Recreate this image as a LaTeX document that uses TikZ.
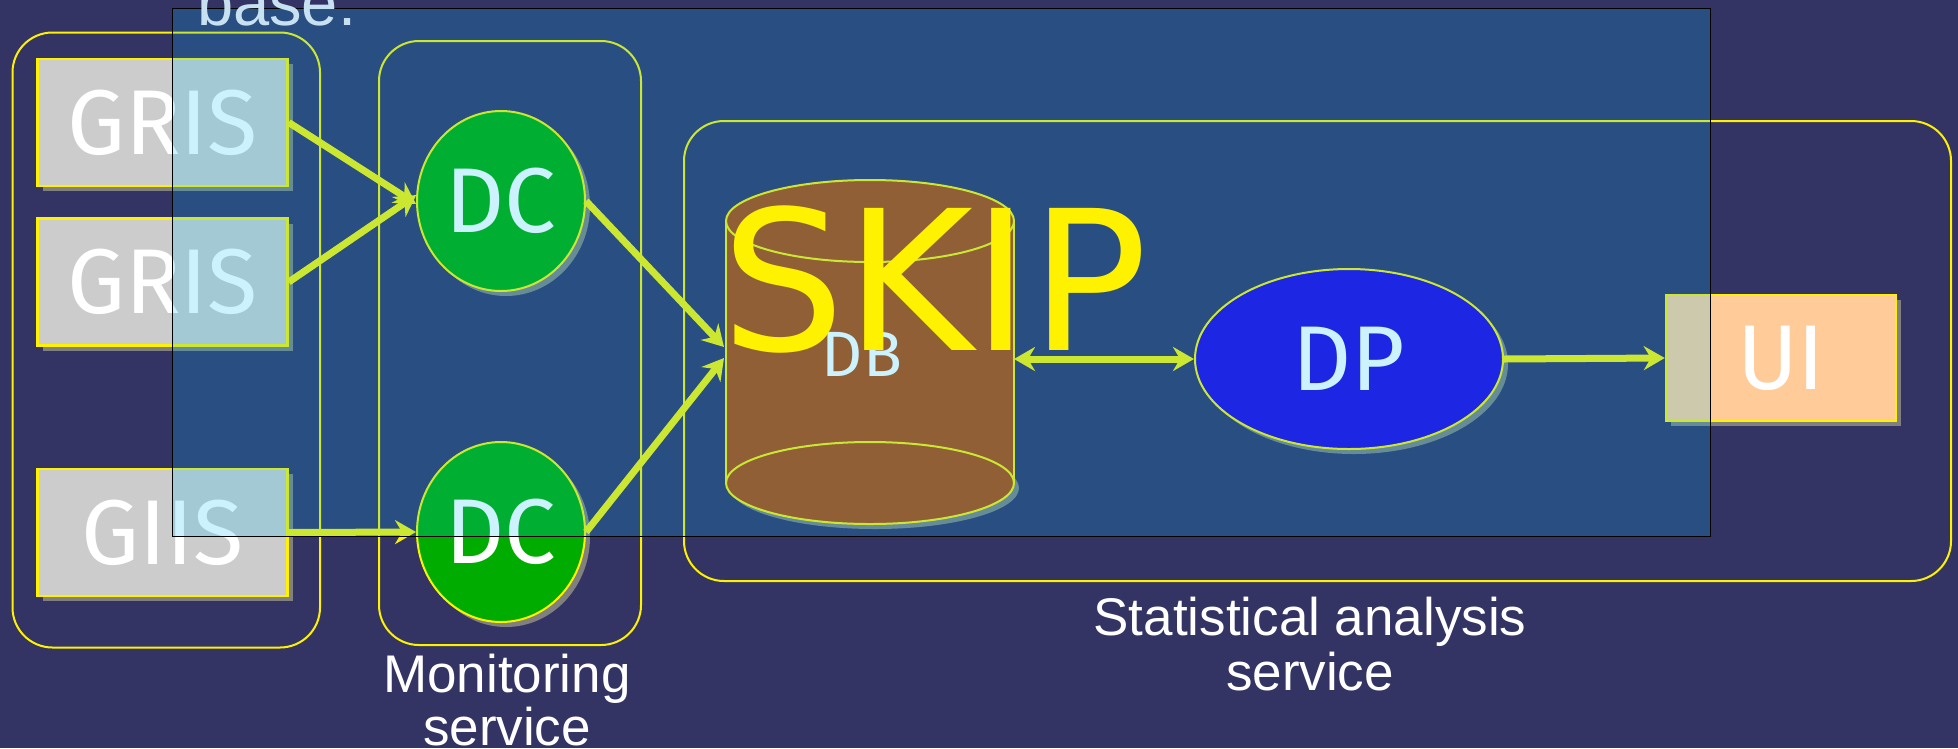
\documentclass[tikz,border=0pt]{standalone}
\usepackage{fontspec}
\setmainfont{Liberation Sans}
\newfontfamily\comicf{Fira Sans}
\newfontfamily\skipf{DejaVu Sans}
\usetikzlibrary{arrows.meta,shapes.geometric,shadows,calc}
\definecolor{bgc}{RGB}{51,51,100}
\definecolor{boxgray}{RGB}{204,204,204}
\definecolor{shadowgray}{RGB}{128,128,128}
\definecolor{dcgreen}{RGB}{0,172,0}
\definecolor{dbbrown}{RGB}{180,72,4}
\definecolor{dpblue}{RGB}{36,0,222}
\definecolor{uiorange}{RGB}{255,204,153}
\definecolor{overlayc}{RGB}{0,190,250}
\definecolor{basec}{RGB}{200,225,240}
\begin{document}
\begin{tikzpicture}[x=1pt,y=-1pt,
  grp/.style={draw=yellow, line width=2pt, rounded corners=40pt},
  boxn/.style={draw=yellow, line width=2.5pt, minimum width=250pt, minimum height=127pt, inner sep=0pt, text=white,
    font={\comicf\fontsize{92}{96}\selectfont},
    drop shadow={shadow xshift=5pt, shadow yshift=-5pt, fill=shadowgray, opacity=1}},
  elln/.style={ellipse, draw=yellow, line width=2pt, inner sep=0pt, text=white,
    font={\comicf\fontsize{92}{96}\selectfont},
    drop shadow={shadow xshift=5pt, shadow yshift=-5pt, fill=shadowgray, opacity=1}},
  arr/.style={draw=yellow, line width=7pt, -{Stealth[length=21pt,width=24pt,inset=7pt]}},
  darr/.style={draw=yellow, line width=7pt, {Stealth[length=21pt,width=24pt,inset=7pt]}-{Stealth[length=21pt,width=24pt,inset=7pt]}},
  lbl/.style={text=white, font={\fontsize{53}{55}\selectfont}, inner sep=0pt, anchor=base}
]
\useasboundingbox (0,0) rectangle (1958,748);
\fill[bgc] (0,0) rectangle (1958,748);

% groups
\draw[grp] (12.5,32.5) rectangle (320,647.5);
\draw[grp] (379,41) rectangle (641,645);
\draw[grp] (684,121) rectangle (1951,581);

% left boxes
\node[boxn, fill=boxgray] (gris1) at (162.5,122.5) {GRIS};
\node[boxn, fill=boxgray] (gris2) at (162.5,282) {GRIS};
\node[boxn, fill=boxgray] (giis) at (162.5,532.5) {GIIS};

% DC ellipses
\node[elln, fill=dcgreen, minimum width=168pt, minimum height=180pt] (dc1) at (501,201) {DC};
\node[elln, fill=dcgreen, minimum width=168pt, minimum height=180pt] (dc2) at (501,532) {DC};

% DB cylinder
\fill[shadowgray] (875,488) ellipse [x radius=144pt, y radius=41pt];
\fill[dbbrown] (726,221) rectangle (1014,483);
\fill[dbbrown] (870,483) ellipse [x radius=144pt, y radius=41pt];
\draw[yellow, line width=2pt] (726,221) -- (726,483) (1014,221) -- (1014,483);
\draw[yellow, line width=2pt] (870,483) ellipse [x radius=144pt, y radius=41pt];
\draw[yellow, line width=2pt, fill=dbbrown] (870,221) ellipse [x radius=144pt, y radius=41pt];
\node[text=white, inner sep=0pt, font={\comicf\fontsize{64}{66}\selectfont}] (db) at (862,354) {DB};
\coordinate (dbin1) at (724,347);
\coordinate (dbin2) at (724,358);
\coordinate (dbout) at (1014,359);

% DP
\node[elln, fill=dpblue, minimum width=308pt, minimum height=180pt] (dp) at (1349,359) {DP};

% UI
\node[boxn, fill=uiorange, minimum width=230pt, minimum height=126pt] (ui) at (1781,358) {UI};

% arrows
\draw[arr] (gris1.east) -- (dc1.182);
\draw[arr] (gris2.east) -- (dc1.176);
\draw[arr] (giis.east) -- (dc2.west);
\draw[arr] (dc1.east) -- (dbin1);
\draw[arr] (dc2.east) -- (dbin2);
\draw[darr] (dbout) -- (dp.west);
\draw[arr] (dp.east) -- (ui.west);

% labels
\node[lbl] (mon1) at (507,692) {Monitoring};
\node[lbl] (mon2) at (507,745) {service};
\node[lbl] (sta1) at (1310,635) {Statistical analysis};
\node[lbl] (sta2) at (1310,690) {service};

% overlay
\fill[overlayc, fill opacity=0.2] (172.5,8.75) rectangle (1710,536);
\draw[black, line width=1pt] (172.5,8.75) rectangle (1710,536);

% top texts
\node[text=basec, inner sep=0pt, anchor=base west, font={\fontsize{65}{66}\selectfont}] (base) at (197,25) {base.};
\node[text=yellow, inner sep=0pt, anchor=base west, font={\skipf\fontsize{195}{198}\selectfont}] (skip) at (721,350) {SKIP};
\end{tikzpicture}
\end{document}
